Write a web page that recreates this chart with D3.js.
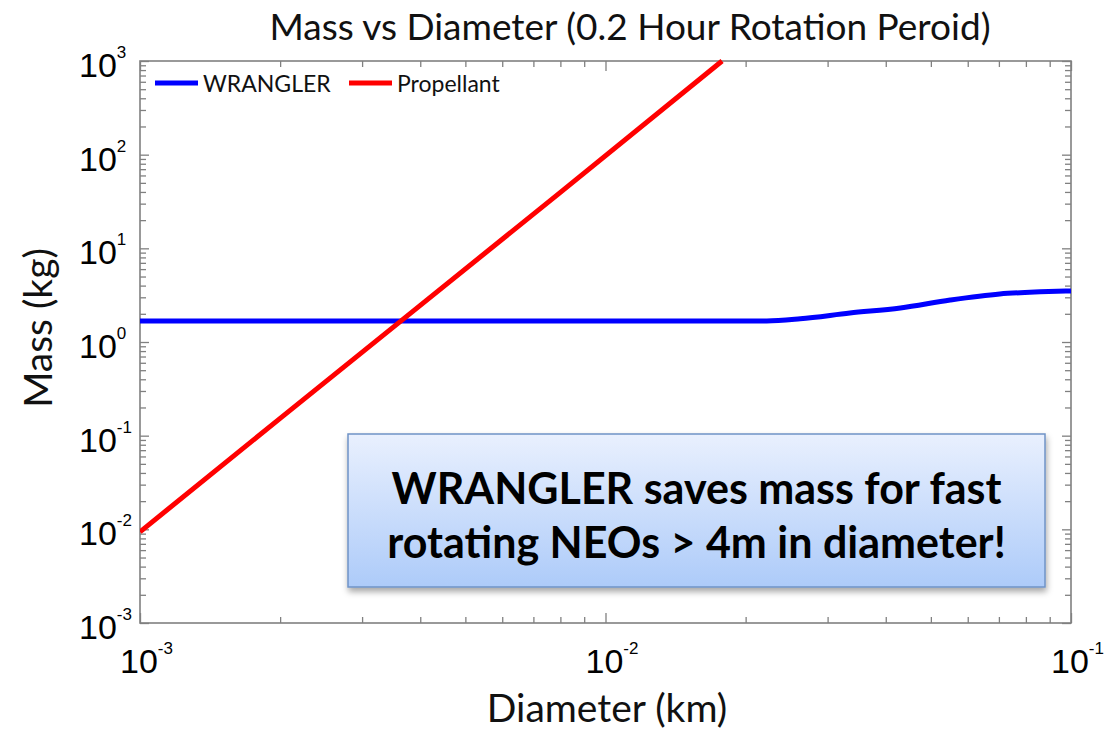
<!DOCTYPE html>
<html>
<head>
<meta charset="utf-8">
<script src="https://cdn.jsdelivr.net/npm/d3@7"></script>
<style>
  html, body { margin: 0; padding: 0; background: #fff; }
  svg { display: block; }
</style>
</head>
<body>
<svg id="chart" width="1104" height="729"></svg>
<script>
// Axis ranges (log decades)
const diameterDomain = [1e-3, 1e-1];
const massDomain = [1e-3, 1e3];
const diameterMajor = [1e-3, 1e-2, 1e-1];
const diameterExponents = ["-3", "-2", "-1"];
const massMajor = [1e-3, 1e-2, 1e-1, 1e0, 1e1, 1e2, 1e3];
const massExponents = ["-3", "-2", "-1", "0", "1", "2", "3"];

// WRANGLER system mass vs NEO diameter
const wranglerDiameter = [0.001, 0.0222, 0.0262, 0.0335, 0.043, 0.055, 0.0703, 0.0858, 0.1];
const wranglerMass     = [1.68,  1.68,   1.77,   2.04,   2.31,  2.81,  3.26,   3.43,   3.51];

// Propellant mass needed to de-spin
const propellantDiameter = [0.001, 0.002, 0.004, 0.008, 0.0178];
const propellantMass     = [0.0094, 0.153, 2.46, 39.6, 1000];

const seriesNames = ["WRANGLER", "Propellant"];
const seriesColors = ["#0000ff", "#ff0000"];

const titleText = "Mass vs Diameter (0.2 Hour Rotation Peroid)";
const xLabel = "Diameter (km)";
const yLabel = "Mass (kg)";
const noteLines = ["WRANGLER saves mass for fast", "rotating NEOs > 4m in diameter!"];

const svg = d3.select("#chart");
const margin = { left: 140, right: 33, top: 61, bottom: 106 };
const W = 1104, H = 729;
const pw = W - margin.left - margin.right;
const ph = H - margin.top - margin.bottom;

const x = d3.scaleLog().domain(diameterDomain).range([0, pw]);
const y = d3.scaleLog().domain(massDomain).range([ph, 0]);

const g = svg.append("g").attr("transform", `translate(${margin.left},${margin.top})`);

const defs = svg.append("defs");
defs.append("clipPath").attr("id", "plotClip")
  .append("rect").attr("x", 0).attr("y", -3).attr("width", pw).attr("height", ph + 6);

const grad = defs.append("linearGradient").attr("id", "noteFill")
  .attr("x1", 0).attr("y1", 0).attr("x2", 0).attr("y2", 1);
grad.append("stop").attr("offset", "0%").attr("stop-color", "#e9f0fe");
grad.append("stop").attr("offset", "100%").attr("stop-color", "#adcbf9");

const shadow = defs.append("filter").attr("id", "noteShadow")
  .attr("x", "-10%").attr("y", "-10%").attr("width", "120%").attr("height", "130%");
shadow.append("feDropShadow").attr("dx", 1).attr("dy", 4).attr("stdDeviation", 3)
  .attr("flood-color", "#000").attr("flood-opacity", 0.35);

// Minor tick positions for each decade
function minorTicks(domain) {
  const out = [];
  const lo = Math.round(Math.log10(domain[0])), hi = Math.round(Math.log10(domain[1]));
  for (let e = lo; e < hi; e++) {
    for (let k = 2; k <= 9; k++) out.push(k * Math.pow(10, e));
  }
  return out;
}

const frameColor = "#808080";

function styleAxis(sel) {
  sel.select(".domain").remove();
  sel.selectAll(".tick line").attr("stroke", frameColor).attr("stroke-width", 1.3);
  sel.selectAll(".tick text").remove();
}

// Ticks on all four sides, pointing inward
g.append("g").attr("transform", `translate(0,${ph})`)
  .call(d3.axisBottom(x).tickValues(minorTicks(diameterDomain)).tickSize(-6)).call(styleAxis);
g.append("g").attr("transform", `translate(0,${ph})`)
  .call(d3.axisBottom(x).tickValues(diameterMajor).tickSize(-10)).call(styleAxis);
g.append("g")
  .call(d3.axisTop(x).tickValues(minorTicks(diameterDomain)).tickSize(-6)).call(styleAxis);
g.append("g")
  .call(d3.axisTop(x).tickValues(diameterMajor).tickSize(-10)).call(styleAxis);
g.append("g")
  .call(d3.axisLeft(y).tickValues(minorTicks(massDomain)).tickSize(-6)).call(styleAxis);
g.append("g")
  .call(d3.axisLeft(y).tickValues(massMajor).tickSize(-9)).call(styleAxis);
g.append("g").attr("transform", `translate(${pw},0)`)
  .call(d3.axisRight(y).tickValues(minorTicks(massDomain)).tickSize(-6)).call(styleAxis);
g.append("g").attr("transform", `translate(${pw},0)`)
  .call(d3.axisRight(y).tickValues(massMajor).tickSize(-9)).call(styleAxis);

// Frame
g.append("rect").attr("width", pw).attr("height", ph)
  .attr("fill", "none").attr("stroke", frameColor).attr("stroke-width", 1.6);

// Power-of-ten tick labels
const tickFont = "'Liberation Sans', Arial, sans-serif";
massMajor.forEach((v, i) => {
  const t = g.append("text")
    .attr("x", -61).attr("y", y(v) + 16)
    .attr("text-anchor", "start")
    .attr("font-family", tickFont).attr("font-size", 34).attr("fill", "#000");
  t.append("tspan").text("10");
  t.append("tspan").attr("dy", -19).attr("font-size", 17).text(massExponents[i].replace("-", "\u2011"));
});

diameterMajor.forEach((v, i) => {
  const t = g.append("text")
    .attr("x", x(v) - 20).attr("y", ph + 50)
    .attr("text-anchor", "start")
    .attr("font-family", tickFont).attr("font-size", 34).attr("fill", "#000");
  t.append("tspan").text("10");
  t.append("tspan").attr("dy", -19).attr("font-size", 17).text(diameterExponents[i].replace("-", "\u2011"));
});

// Series lines
const lineGen = d3.line()
  .x(d => x(d[0])).y(d => y(d[1]))
  .curve(d3.curveMonotoneX);

const wranglerData = wranglerDiameter.map((d, i) => [d, wranglerMass[i]]);
const propellantData = propellantDiameter.map((d, i) => [d, propellantMass[i]]);

const plot = g.append("g").attr("clip-path", "url(#plotClip)");
plot.append("path").datum(wranglerData)
  .attr("d", lineGen).attr("fill", "none")
  .attr("stroke", seriesColors[0]).attr("stroke-width", 5);
plot.append("path").datum(propellantData)
  .attr("d", d3.line().x(d => x(d[0])).y(d => y(d[1])))
  .attr("fill", "none")
  .attr("stroke", seriesColors[1]).attr("stroke-width", 5);

// Legend
const labelFont = "Lato, 'Open Sans', sans-serif";
const legend = g.append("g").attr("transform", "translate(15,22)");
const legendX = [0, 194];
seriesNames.forEach((name, i) => {
  const item = legend.append("g").attr("transform", `translate(${legendX[i]},0)`);
  item.append("line").attr("x1", 0).attr("x2", 43).attr("y1", 0).attr("y2", 0)
    .attr("stroke", seriesColors[i]).attr("stroke-width", 5);
  item.append("text").attr("x", 48).attr("y", 9)
    .attr("font-family", labelFont).attr("font-size", 23).attr("fill", "#111")
    .text(name);
});

// Annotation box
const note = g.append("g").attr("transform", `translate(${348 - margin.left},${434 - margin.top})`);
const noteW = 697, noteH = 153;
note.append("rect").attr("width", noteW).attr("height", noteH)
  .attr("fill", "url(#noteFill)").attr("stroke", "#6f93c6").attr("stroke-width", 1.5)
  .attr("filter", "url(#noteShadow)");
noteLines.forEach((line, i) => {
  note.append("text").attr("x", noteW / 2).attr("y", 70 + i * 54)
    .attr("text-anchor", "middle")
    .attr("font-family", labelFont).attr("font-weight", "bold").attr("font-size", 43)
    .attr("fill", "#000").text(line);
});

// Title and axis labels
svg.append("text").attr("x", 630).attr("y", 40)
  .attr("text-anchor", "middle").attr("font-family", labelFont)
  .attr("font-size", 37).attr("fill", "#111").text(titleText);
svg.append("text").attr("x", 607).attr("y", 722)
  .attr("text-anchor", "middle").attr("font-family", labelFont)
  .attr("font-size", 39).attr("fill", "#111").text(xLabel);
svg.append("text").attr("transform", "translate(52,328) rotate(-90)")
  .attr("text-anchor", "middle").attr("font-family", labelFont)
  .attr("font-size", 39).attr("fill", "#111").text(yLabel);
</script>
</body>
</html>
